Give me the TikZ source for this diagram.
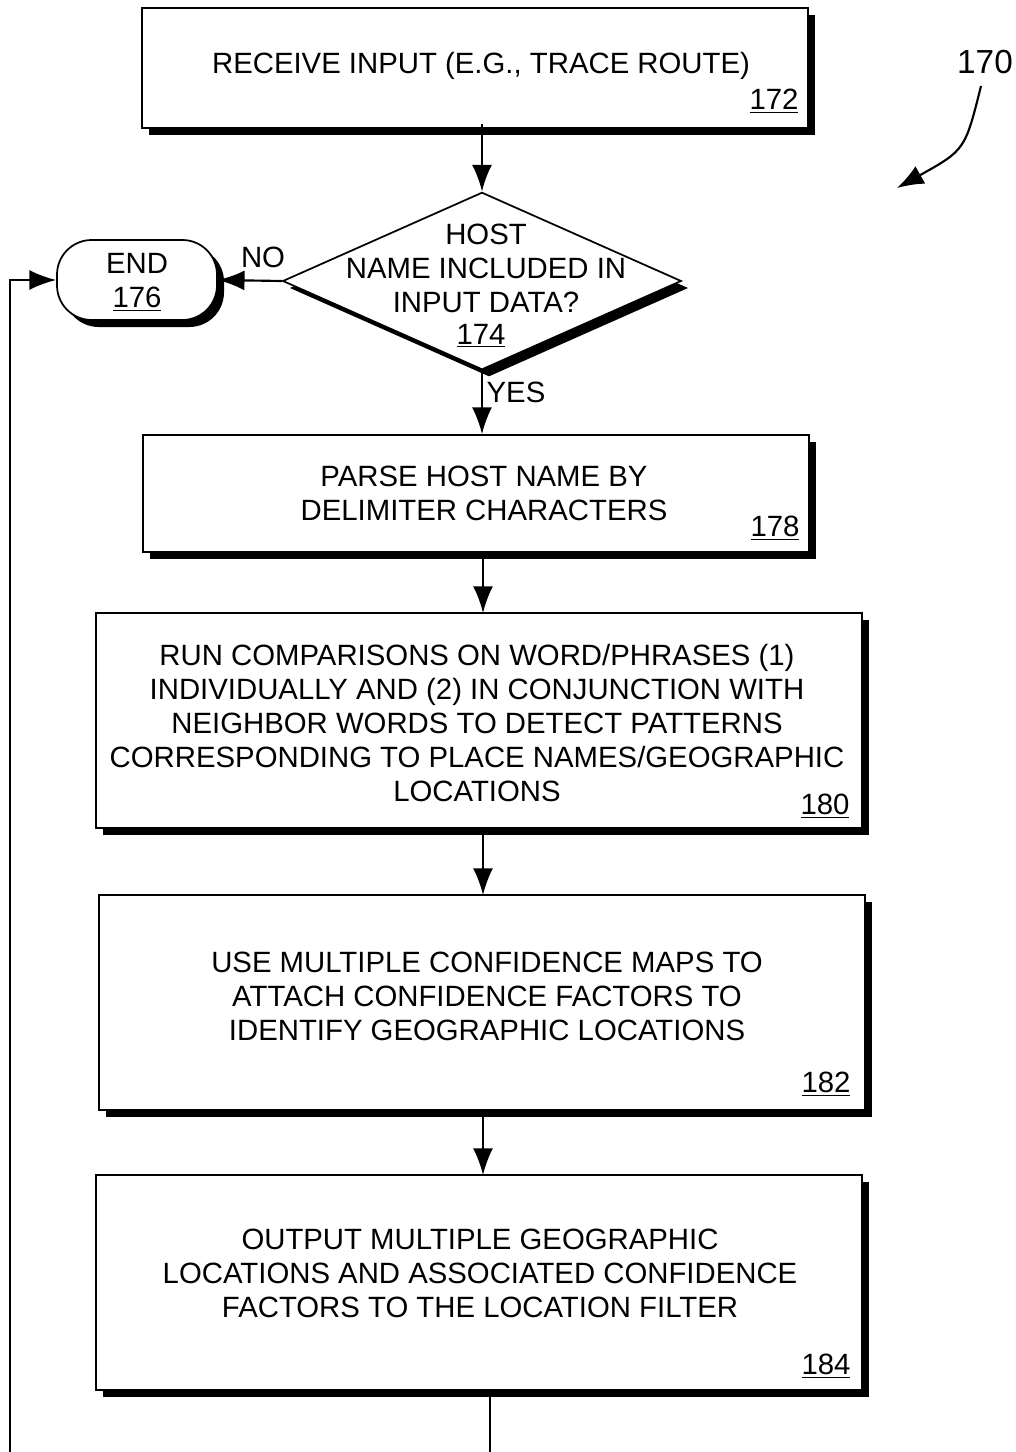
\documentclass[tikz,border=0pt]{standalone}
\usepackage{fontspec}
\setmainfont{Liberation Sans}
\usetikzlibrary{shapes.geometric,shadows,arrows.meta}
\begin{document}
\begin{tikzpicture}[x=0.75pt,y=-0.75pt,
  shad/.style={drop shadow={shadow xshift=5.25pt,shadow yshift=-5.25pt,opacity=1,fill=black}},
  box/.style={draw,line width=1.3pt,fill=white,shad,inner sep=0pt},
  txt/.style={font=\fontsize{22}{25.5}\selectfont,align=center,inner sep=0pt},
  num/.style={font=\fontsize{22}{25.5}\selectfont,inner sep=0pt},
  arr/.style={line width=1.6pt,-{Latex[length=20pt,width=15pt]}},
  ln/.style={line width=1.6pt}]
\useasboundingbox (0,0) rectangle (1015,1452);
% boxes
\node[box,minimum width=499.5pt,minimum height=90pt] (b172) at (475,68) {};
\node[box,diamond,minimum width=299pt,minimum height=133pt] (d174) at (482,281) {};
\node[box,rounded corners=26pt,minimum width=120pt,minimum height=60pt] (e176) at (137,280) {};
\node[box,minimum width=499.5pt,minimum height=87.75pt] (b178) at (476,493.5) {};
\node[box,minimum width=574.5pt,minimum height=161.25pt] (b180) at (479,720.5) {};
\node[box,minimum width=574.5pt,minimum height=161.25pt] (b182) at (482,1002.5) {};
\node[box,minimum width=574.5pt,minimum height=161.25pt] (b184) at (479,1282.5) {};
% texts
\node[txt] (t172) at (481,66) {RECEIVE INPUT (E.G., TRACE ROUTE)};
\node[num] (n172) at (774,101) {\underline{172}};
\node[txt] (t174) at (486,268) {HOST\\NAME INCLUDED IN\\INPUT DATA?};
\node[num] (n174) at (481,336) {\underline{174}};
\node[txt] (t176) at (137,282) {END\\\underline{176}};
\node[txt] (t178) at (484,493.5) {PARSE HOST NAME BY\\DELIMITER CHARACTERS};
\node[num] (n178) at (775,528) {\underline{178}};
\node[txt] (t180) at (477,723) {RUN COMPARISONS ON WORD/PHRASES (1)\\INDIVIDUALLY AND (2) IN CONJUNCTION WITH\\NEIGHBOR WORDS TO DETECT PATTERNS\\CORRESPONDING TO PLACE NAMES/GEOGRAPHIC\\LOCATIONS};
\node[num] (n180) at (825,806) {\underline{180}};
\node[txt] (t182) at (487,996.5) {USE MULTIPLE CONFIDENCE MAPS TO\\ATTACH CONFIDENCE FACTORS TO\\IDENTIFY GEOGRAPHIC LOCATIONS};
\node[num] (n182) at (826,1084) {\underline{182}};
\node[txt] (t184) at (480,1273.5) {OUTPUT MULTIPLE GEOGRAPHIC\\LOCATIONS AND ASSOCIATED CONFIDENCE\\FACTORS TO THE LOCATION FILTER};
\node[num] (n184) at (826,1366) {\underline{184}};
\node[font=\fontsize{25}{30}\selectfont,inner sep=0pt] (l170) at (985,62) {170};
\node[num] (lno) at (263,257) {NO};
\node[num] (lyes) at (516,392) {YES};
% connectors
\draw[arr] (b172.south -| d174.north) ++(0,-5) coordinate (c1) -- (d174.north);
\draw[arr] (d174.south) -- (d174.south |- b178.north);
\draw[arr] (d174.west) -- (e176.east);
\draw[arr] (483,558) coordinate (c2) -- (483,613);
\draw[arr] (483,828) coordinate (c3) -- (483,895);
\draw[arr] (483,1110) coordinate (c4) -- (483,1175);
\coordinate (c5) at (490,1397);
\coordinate (c6) at (490,1452);
\draw[ln] (c5) -- (c6);
\coordinate (lb) at (10,1452);
\draw[arr] (lb) |- (e176.west);
\coordinate (a0) at (981,86);
\coordinate (a1) at (897,188);
\draw[arr] (a0) .. controls (965,150) .. (a1);
\end{tikzpicture}
\end{document}
